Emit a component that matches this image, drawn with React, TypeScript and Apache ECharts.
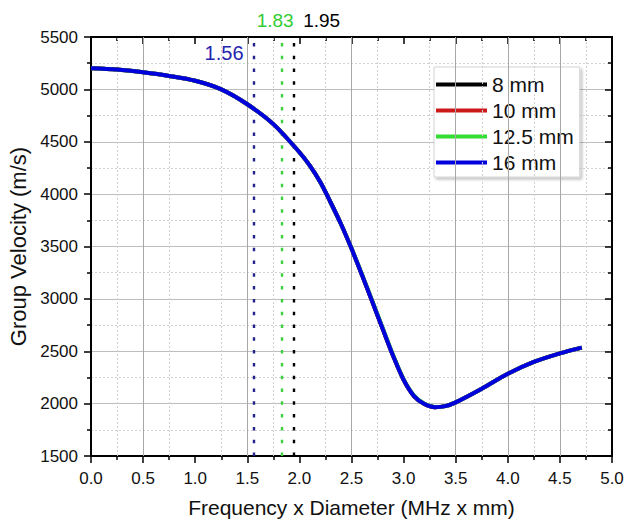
import React, { useEffect, useRef } from "react";
import * as echarts from "echarts";

const FONT = "'Liberation Sans', Arial, sans-serif";

// Frequency x Diameter (MHz x mm)
const fd = [0, 0.25, 0.5, 0.75, 1.0, 1.25, 1.5, 1.75, 2.0, 2.1, 2.2, 2.3, 2.4, 2.5, 2.6, 2.7, 2.8, 2.9, 3.0, 3.1, 3.2, 3.3, 3.4, 3.5, 3.75, 4.0, 4.25, 4.5, 4.71];
// Group velocity (m/s) for each diameter
const v8mm = [5202, 5190, 5163, 5128, 5082, 5000, 4858, 4668, 4400, 4272, 4115, 3920, 3712, 3480, 3230, 2972, 2712, 2455, 2228, 2072, 1996, 1966, 1976, 2012, 2142, 2285, 2398, 2480, 2535];
const v10mm = [5202, 5190, 5163, 5128, 5082, 5000, 4858, 4668, 4400, 4272, 4115, 3920, 3712, 3480, 3230, 2972, 2712, 2455, 2228, 2072, 1996, 1966, 1976, 2012, 2142, 2285, 2398, 2480, 2535];
const v12mm = [5202, 5190, 5163, 5128, 5082, 5000, 4858, 4668, 4400, 4272, 4115, 3920, 3712, 3483, 3236, 2980, 2720, 2462, 2234, 2076, 1998, 1967, 1976, 2012, 2142, 2285, 2398, 2480, 2535];
const v16mm = [5202, 5190, 5163, 5128, 5082, 5000, 4858, 4668, 4400, 4272, 4115, 3920, 3712, 3480, 3230, 2972, 2712, 2455, 2228, 2072, 1996, 1966, 1976, 2012, 2142, 2285, 2398, 2480, 2535];

const seriesNames = ["8 mm", "10 mm", "12.5 mm", "16 mm"];
const seriesColors = ["#000000", "#cc1a1a", "#33dd33", "#0000dd"];
const seriesValues = [v8mm, v10mm, v12mm, v16mm];

// cut-off markers
const markerValues = [1.56, 1.83, 1.95];
const markerLabels = ["1.56", "1.83", "1.95"];
const markerColors = ["#23238c", "#3fcf3f", "#000000"];
const markerLabelColors = ["#2424b0", "#33cc33", "#000000"];

// x grid lines
const xMajorGrid = [0.5, 1.5, 2.5, 3.5, 4.0, 4.5];
const xMinorGrid = [0.25, 0.75, 1.25, 1.75, 2.25, 2.75, 3.25, 3.75, 4.25, 4.75];

export default function App() {
  const ref = useRef<HTMLDivElement>(null);
  useEffect(() => {
    if (!ref.current) return;
    const chart = echarts.init(ref.current, undefined, { renderer: "svg" });
    const lineSeries = seriesNames.map((name, i) => ({
      name,
      type: "line",
      data: fd.map((x, j) => [x, seriesValues[i][j]]),
      showSymbol: false,
      smooth: 0.3,
      lineStyle: { color: seriesColors[i], width: 4 },
      itemStyle: { color: seriesColors[i] },
      z: 5 + i,
    }));
    const option: any = {
      animation: false,
      backgroundColor: "#ffffff",
      textStyle: { fontFamily: FONT },
      grid: {
        left: 91,
        top: 37,
        width: 521,
        height: 419,
        show: true,
        borderColor: "#000",
        borderWidth: 1.5,
        backgroundColor: "transparent",
        containLabel: false,
        outerBoundsMode: "none",
      },
      legend: {
        data: seriesNames,
        orient: "vertical",
        left: 434,
        top: 67,
        icon: "rect",
        itemWidth: 51,
        itemHeight: 4,
        itemGap: 5,
        padding: [7, 6, 4, 2],
        backgroundColor: "#fff",
        borderColor: "#d4d4d4",
        borderWidth: 1,
        shadowColor: "rgba(0,0,0,0.25)",
        shadowBlur: 3,
        shadowOffsetX: 2,
        shadowOffsetY: 2,
        textStyle: { fontSize: 21, color: "#111", fontFamily: FONT },
      },
      xAxis: [
        {
          type: "value",
          min: 0,
          max: 5,
          interval: 0.5,
          position: "bottom",
          name: "Frequency x Diameter (MHz x mm)",
          nameLocation: "middle",
          nameGap: 41,
          nameTextStyle: { fontSize: 21, color: "#111", fontFamily: FONT },
          axisLine: { show: true, onZero: false, lineStyle: { color: "#000", width: 2 } },
          axisTick: { show: true, inside: false, length: 7, lineStyle: { color: "#000", width: 1.5 } },
          minorTick: { show: true, splitNumber: 2, length: 4, lineStyle: { color: "#000", width: 1.5 } },
          axisLabel: {
            fontSize: 17,
            color: "#111",
            margin: 14,
            fontFamily: FONT,
            formatter: (v: number) => v.toFixed(1),
          },
          splitLine: { show: false },
        },
        {
          type: "value",
          min: 0,
          max: 5,
          interval: 0.5,
          position: "top",
          axisLine: { show: true, onZero: false, lineStyle: { color: "#000", width: 2 } },
          axisTick: { show: true, inside: true, length: 7, lineStyle: { color: "#000", width: 1.5 } },
          minorTick: { show: true, splitNumber: 2, length: 4, lineStyle: { color: "#000", width: 1.5 } },
          axisLabel: { show: false },
          splitLine: { show: false },
        },
      ],
      yAxis: [
        {
          type: "value",
          min: 1500,
          max: 5500,
          interval: 500,
          position: "left",
          name: "Group Velocity (m/s)",
          nameLocation: "middle",
          nameGap: 56,
          nameTextStyle: { fontSize: 22, color: "#111", fontFamily: FONT },
          axisLine: { show: true, onZero: false, lineStyle: { color: "#000", width: 2 } },
          axisTick: { show: true, inside: false, length: 7, lineStyle: { color: "#000", width: 1.5 } },
          minorTick: { show: true, splitNumber: 2, length: 4, lineStyle: { color: "#000", width: 1.5 } },
          axisLabel: {
            fontSize: 17,
            color: "#111",
            margin: 13,
            fontFamily: FONT,
            formatter: (v: number) => String(v),
          },
          splitLine: { show: true, lineStyle: { color: "#bdbdbd", width: 1 } },
          minorSplitLine: { show: true, lineStyle: { color: "#d2d2d2", width: 1, type: [2, 2] } },
        },
        {
          type: "value",
          min: 1500,
          max: 5500,
          interval: 500,
          position: "right",
          axisLine: { show: true, onZero: false, lineStyle: { color: "#000", width: 2 } },
          axisTick: { show: true, inside: true, length: 7, lineStyle: { color: "#000", width: 1.5 } },
          minorTick: { show: true, splitNumber: 2, length: 4, lineStyle: { color: "#000", width: 1.5 } },
          axisLabel: { show: false },
          splitLine: { show: false },
        },
      ],
      series: [
        {
          name: "grid",
          type: "line",
          data: [],
          silent: true,
          z: 1,
          markLine: {
            silent: true,
            symbol: "none",
            label: { show: false },
            animation: false,
            data: [
              ...xMajorGrid.map((x) => ({ xAxis: x, lineStyle: { color: "#a8a8a8", width: 1, type: "solid" } })),
              ...xMinorGrid.map((x) => ({ xAxis: x, lineStyle: { color: "#cfcfcf", width: 1, type: [2, 2] } })),
            ],
          },
        },
        {
          name: "markers",
          type: "line",
          data: [],
          silent: true,
          z: 3,
          markLine: {
            silent: true,
            symbol: "none",
            label: { show: false },
            animation: false,
            data: markerValues.map((x, i) => ({
              xAxis: x,
              lineStyle: { color: markerColors[i], width: 2.4, type: [3.5, 9.3] },
            })),
          },
        },
        ...lineSeries,
      ],
    };
    chart.setOption(option);

    const px = (x: number, y: number) =>
      chart.convertToPixel({ xAxisIndex: 0, yAxisIndex: 0 }, [x, y]) as number[];
    const p0 = px(markerValues[0], 5345);
    const p1 = px(markerValues[1], 5660);
    const p2 = px(markerValues[2], 5660);
    chart.setOption({
      graphic: [
        {
          type: "text",
          x: p0[0] - 10,
          y: p0[1],
          style: {
            text: markerLabels[0],
            fill: markerLabelColors[0],
            font: `20px ${FONT}`,
            textAlign: "right",
            textVerticalAlign: "middle",
          },
        },
        {
          type: "text",
          x: p1[0] + 12,
          y: p1[1],
          style: {
            text: markerLabels[1],
            fill: markerLabelColors[1],
            font: `19px ${FONT}`,
            textAlign: "right",
            textVerticalAlign: "middle",
          },
        },
        {
          type: "text",
          x: p2[0] + 9,
          y: p2[1],
          style: {
            text: markerLabels[2],
            fill: markerLabelColors[2],
            font: `19px ${FONT}`,
            textAlign: "left",
            textVerticalAlign: "middle",
          },
        },
      ],
    });
    return () => chart.dispose();
  }, []);
  return (
    <div
      ref={ref}
      style={{ position: "absolute", left: 0, top: 0, width: 627, height: 521 }}
    />
  );
}
